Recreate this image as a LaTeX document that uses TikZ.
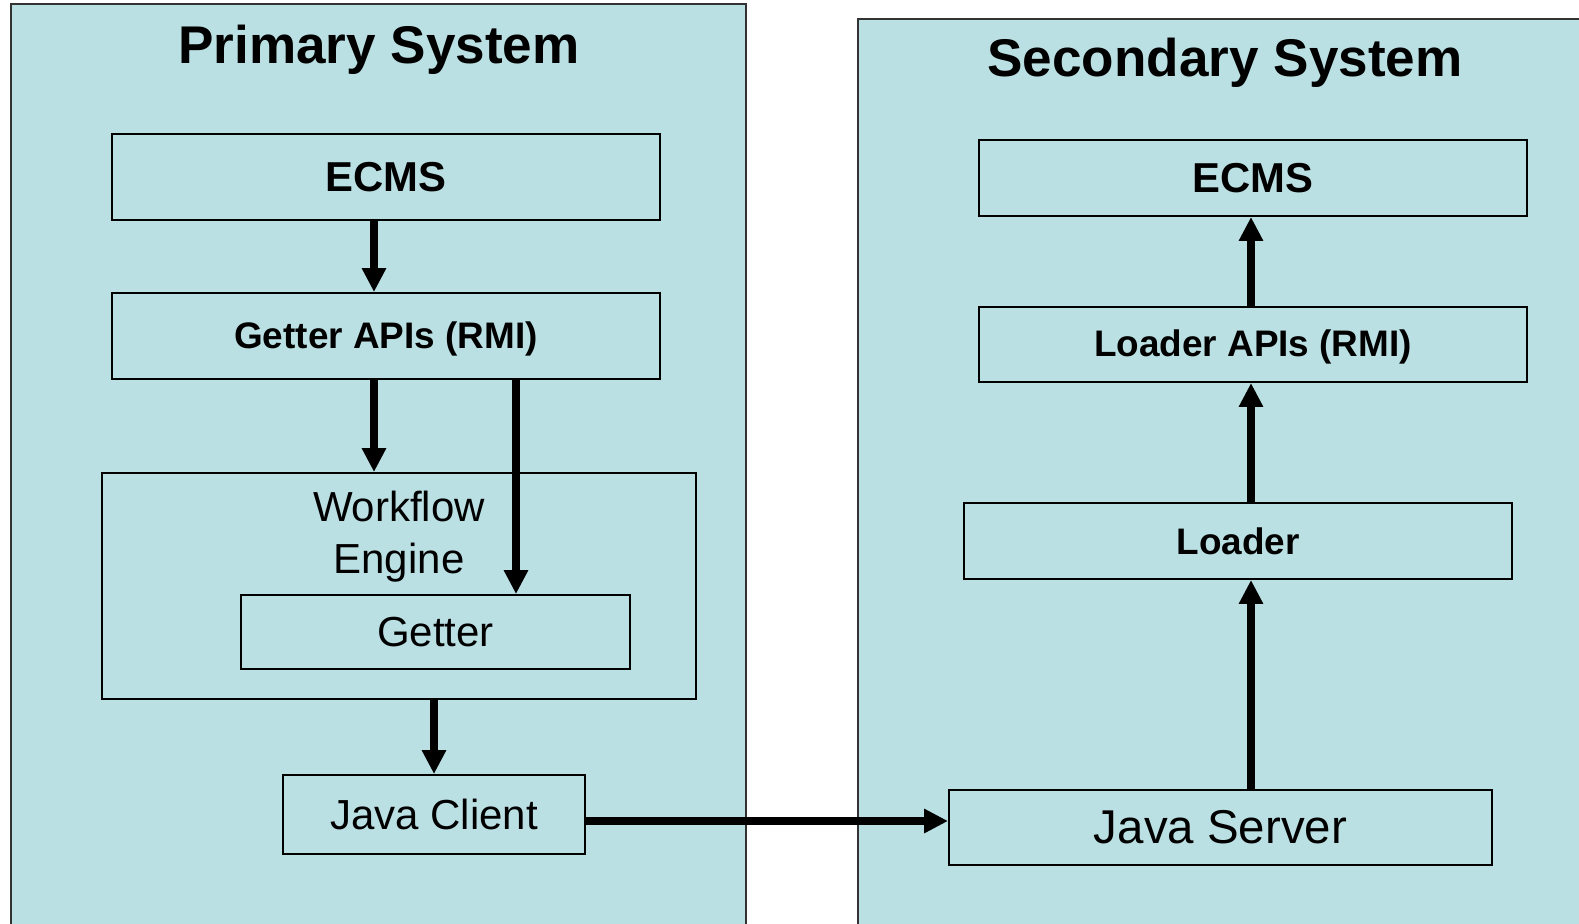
\documentclass[tikz,border=0pt]{standalone}
\usepackage{fontspec}
\setmainfont{Liberation Sans}
\usetikzlibrary{arrows.meta}

\definecolor{panelblue}{RGB}{186,224,227}

\tikzset{
    panel/.style={draw=black!80, line width=0.8pt},
    box/.style={draw=black, line width=1.1pt, fill=panelblue, inner sep=0pt},
    flow/.style={line width=4.2pt, -{Triangle[length=0.48cm,width=0.46cm]}},
    title/.style={font=\fontsize{30.2}{34}\selectfont\bfseries},
    bigb/.style={font=\fontsize{23.8}{28}\selectfont\bfseries},
    smallb/.style={font=\fontsize{21}{25}\selectfont\bfseries},
    plain/.style={font=\fontsize{23.9}{29.6}\selectfont}
}

\begin{document}
\begin{tikzpicture}
    \useasboundingbox (0,0) rectangle (31.58,-18.46);
    %\draw[very thin,color=gray] (0,-18) grid (31,0);
    \fill[white] (0,0) rectangle (31.58,-18.46);
    \fill [panelblue] (0.22,-19) rectangle (14.92,-0.08);
    \fill [panelblue] (17.16,-19) rectangle (32,-0.38);
    \draw [panel] (0.22,-19) -- (0.22,-0.08) -- (14.92,-0.08) -- (14.92,-19);
    \draw [panel] (17.16,-19) -- (17.16,-0.38) -- (32,-0.38);
    \node [title] (tPrim) at (7.58,-1.0) {Primary System};
    \node [title] (tSec) at (24.5,-1.26) {Secondary System};

    % primary side
    \node [box, bigb, minimum width=10.96cm, minimum height=1.72cm] (ecmsL) at (7.72,-3.54) {ECMS};
    \node [box, smallb, minimum width=10.96cm, minimum height=1.72cm, text depth=0.05cm] (apiL) at (7.72,-6.72) {Getter APIs (RMI)};
    \node [box, minimum width=11.88cm, minimum height=4.52cm] (wf) at (7.98,-11.72) {};
    \node [plain, align=center] (wfText) at (7.98,-10.73) {Workflow\\Engine};
    \node [box, plain, minimum width=7.78cm, minimum height=1.48cm] (getter) at (8.71,-12.64) {Getter};
    \node [box, plain, minimum width=6.04cm, minimum height=1.58cm] (client) at (8.68,-16.29) {Java Client};

    % secondary side
    \node [box, bigb, minimum width=10.96cm, minimum height=1.52cm] (ecmsR) at (25.06,-3.56) {ECMS};
    \node [box, smallb, minimum width=10.96cm, minimum height=1.5cm, text depth=0.05cm] (apiR) at (25.06,-6.89) {Loader APIs (RMI)};
    \node [box, smallb, minimum width=10.96cm, minimum height=1.52cm] (loader) at (24.76,-10.82) {Loader};
    \node [box, font=\fontsize{27}{32}\selectfont, minimum width=10.86cm, minimum height=1.5cm] (server) at (24.41,-16.55) {Java Server};

    \coordinate (colA) at (7.48,0);
    \coordinate (colB) at (10.32,0);
    \coordinate (colC) at (8.68,0);
    \coordinate (colR) at (25.02,0);
    \coordinate (rowJ) at (0,-16.42);

    \draw [flow] (ecmsL.south -| colA) -- (apiL.north -| colA);
    \draw [flow] (apiL.south -| colA) -- (wf.north -| colA);
    \draw [flow] (apiL.south -| colB) -- (getter.north -| colB);
    \draw [flow] (wf.south -| colC) -- (client.north -| colC);
    \draw [flow] (client.east |- rowJ) -- (server.west |- rowJ);
    \draw [flow] (server.north -| colR) -- (loader.south -| colR);
    \draw [flow] (loader.north -| colR) -- (apiR.south -| colR);
    \draw [flow] (apiR.north -| colR) -- (ecmsR.south -| colR);

\end{tikzpicture}
\end{document}
